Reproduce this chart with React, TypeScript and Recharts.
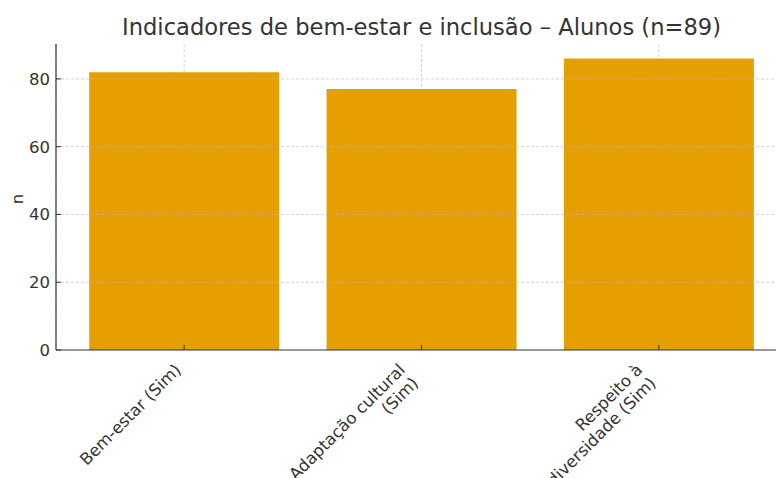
import { BarChart, Bar, XAxis, YAxis, CartesianGrid, ReferenceLine } from 'recharts';

const categories = ['Bem-estar (Sim)', 'Adaptação cultural\n(Sim)', 'Respeito à\ndiversidade (Sim)'];
const counts = [82, 77, 86];
const yTicks = [0, 20, 40, 60, 80];

const data = categories.map((name, i) => ({ name, n: counts[i] }));

const FONT = '"DejaVu Sans", sans-serif';
const TEXT = '#333333';
const SPINE = '#333333';
const GRID = '#b8b8b8';
const FS = 16.5;

// x labels: rotated 45°, right-aligned, last line ends just left of the tick
function XTick(props: any) {
  const { x, y, payload } = props;
  const lines: string[] = String(payload.value).split('\n');
  const lh = FS * 1.14;
  const ax = x - 11 - (lines.length - 1) * lh * 0.707;
  const ay = y + 12;
  return (
    <g>
      <line x1={x} y1={y} x2={x} y2={y - 5} stroke={SPINE} strokeWidth={1} />
      <g transform={`translate(${ax}, ${ay}) rotate(-45)`}>
        {lines.map((line, i) => (
          <text
            key={i}
            x={0}
            y={i * lh + FS * 0.76}
            textAnchor="end"
            fontSize={FS}
            fontFamily={FONT}
            fill={TEXT}
          >
            {line}
          </text>
        ))}
      </g>
    </g>
  );
}

// y labels with inward tick marks
function YTick(props: any) {
  const { x, y, payload } = props;
  return (
    <g>
      <line x1={x} y1={y} x2={x + 5} y2={y} stroke={SPINE} strokeWidth={1} />
      <text x={x - 6} y={y} dy="0.36em" textAnchor="end" fontSize={FS} fontFamily={FONT} fill={TEXT}>
        {payload.value}
      </text>
    </g>
  );
}

export default function App() {
  return (
    <div style={{ position: 'absolute', left: 0, top: 0, width: 776, height: 478, overflow: 'hidden', background: '#fff' }}>
      <div
        style={{
          position: 'absolute',
          left: 56,
          width: 731,
          top: 14,
          textAlign: 'center',
          fontFamily: FONT,
          fontSize: 22.6,
          color: TEXT,
          whiteSpace: 'nowrap',
        }}
      >
        Indicadores de bem-estar e inclusão – Alunos (n=89)
      </div>
      <div
        style={{
          position: 'absolute',
          left: 17,
          top: 199,
          transform: 'translate(-50%, -50%) rotate(-90deg)',
          fontFamily: FONT,
          fontSize: FS,
          color: TEXT,
        }}
      >
        n
      </div>
      <BarChart
        width={800}
        height={478}
        data={data}
        margin={{ top: 44, right: 13, bottom: 0, left: 0 }}
        barCategoryGap="10%"
      >
        <XAxis
          dataKey="name"
          interval={0}
          height={128}
          padding={{ left: 9.5, right: 9.5 }}
          tick={<XTick />}
          tickSize={0}
          tickMargin={0}
          tickLine={false}
          axisLine={{ stroke: SPINE, strokeWidth: 1.2 }}
        />
        <YAxis
          width={56}
          domain={[0, 90.3]}
          ticks={yTicks}
          tickSize={0}
          tickMargin={0}
          tickLine={false}
          allowDataOverflow
          axisLine={{ stroke: SPINE, strokeWidth: 1.2 }}
          tick={<YTick />}
        />
        <Bar dataKey="n" fill="#E69F00" isAnimationActive={false} />
        <CartesianGrid horizontal={false} stroke={GRID} strokeOpacity={0.6} strokeDasharray="3 2" />
        {yTicks.slice(1).map((t) => (
          <ReferenceLine key={t} y={t} stroke={GRID} strokeOpacity={0.6} strokeDasharray="3 2" />
        ))}
      </BarChart>
    </div>
  );
}
